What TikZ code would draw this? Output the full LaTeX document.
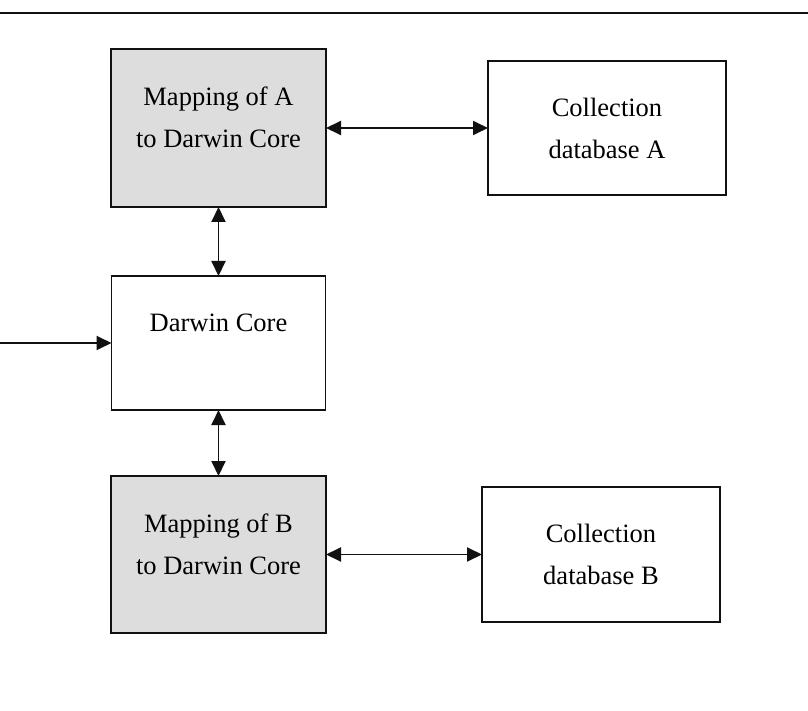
\documentclass[tikz,border=0pt]{standalone}
\usepackage{fontspec}
\setmainfont{Liberation Serif}
\usetikzlibrary{positioning, arrows.meta}
\usepackage{xcolor}
\definecolor{mapgray}{HTML}{DDDDDD}
\definecolor{linedark}{HTML}{111111}

\begin{document}
\begin{tikzpicture}[x=1pt, y=1pt, >={Triangle[length=15pt, width=14pt]},
          m/.style={draw=linedark, fill=mapgray, line width=1.7pt, minimum width=215pt, minimum height=158pt, inner sep=0pt, outer sep=0pt},
          d/.style={draw=linedark, fill=white, line width=1.7pt, minimum width=238pt, minimum height=134pt, inner sep=0pt, outer sep=0pt},
          t/.style={inner sep=0pt, align=center, font=\fontsize{26.5}{41.5}\selectfont},
          a/.style={<->, line width=1.9pt, linedark}]
        \useasboundingbox (0,0) rectangle (808,-711);
        \coordinate (ruleL) at (0,-13); \coordinate (ruleR) at (808,-13);
        \draw[line width=2.8pt, linedark] (ruleL) -- (ruleR);
        % mapping boxes and Darwin Core in the left column
        \node[m] (mapA) at (218.5,-128) {};
        \node[m, minimum width=214pt, minimum height=134pt, fill=white, below=69pt of mapA] (dc) {};
        \node[m, minimum height=157pt, below=66pt of dc] (mapB) {};
        % collection databases on the right
        \node[d, right=162pt of mapA] (colA) {};
        \node[d, minimum height=135pt, right=156pt of mapB] (colB) {};
        % texts
        \node[t, below=38pt of mapA.north] (mapAtxt) {Mapping of A\\to Darwin Core};
        \node[t, below=38pt of dc.north] (dctxt) {Darwin Core};
        \node[t, below=38pt of mapB.north] (mapBtxt) {Mapping of B\\to Darwin Core};
        \node[t, below=37pt of colA.north] (colAtxt) {Collection\\database A};
        \node[t, below=37pt of colB.north] (colBtxt) {Collection\\database B};
        \coordinate (src) at (0,-343);
        \draw[a] (mapA) -- (colA);
        \draw[a] (mapB) -- (colB);
        \draw[a] (mapA) -- (dc);
        \draw[a] (dc) -- (mapB);
        \draw[->, line width=1.9pt, linedark] (src) -- (src -| dc.west);
      \end{tikzpicture}
\end{document}
